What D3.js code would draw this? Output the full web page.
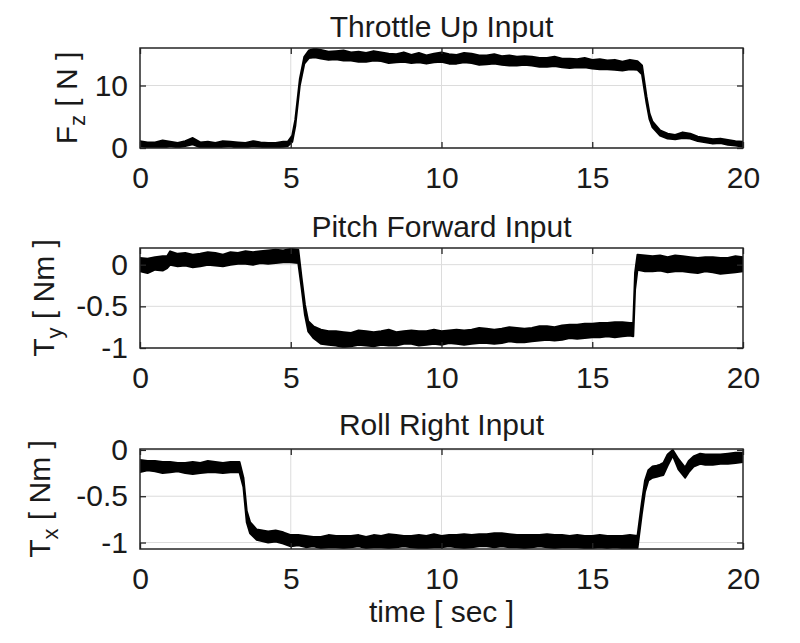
<!DOCTYPE html>
<html lang="en">
	<head>
		<meta charset="utf-8">
		<title>D3: Throttle, pitch and roll inputs</title>
		<script type="text/javascript" src="https://d3js.org/d3.v7.min.js"></script>
		<style type="text/css">
			body{
				margin: 0;
				background: white;
			}
			text{
				font-family: "Liberation Sans", Arial, Helvetica, sans-serif;
				fill: #1a1a1a;
			}
		</style>
	</head>
	<body>
		<script type="text/javascript">

			//Width and height
			var w = 800;
			var h = 643;

			//Shared x ticks
			var xTicks = [0, 5, 10, 15, 20];

			//Throttle Up Input : Fz [N], lower and upper edge of the noisy trace
			var timeFz = [0, 0.25, 0.5, 0.75, 1, 1.25, 1.5, 1.75, 2, 2.25, 2.5, 2.75, 3, 3.25, 3.5, 3.75, 4, 4.25, 4.5, 4.75, 4.9,
						  5.05, 5.15, 5.3, 5.45, 5.6, 5.8,
						  6, 6.25, 6.5, 6.75, 7, 7.25, 7.5, 7.75, 8, 8.25, 8.5, 8.75, 9, 9.25, 9.5, 9.75, 10, 10.25, 10.5, 10.75,
						  11, 11.25, 11.5, 11.75, 12, 12.25, 12.5, 12.75, 13, 13.25, 13.5, 13.75, 14, 14.25, 14.5, 14.75,
						  15, 15.25, 15.5, 15.75, 16, 16.25, 16.5,
						  16.65, 16.8, 16.9, 17.0, 17.25, 17.5, 17.75, 18, 18.25, 18.5, 18.75, 19, 19.25, 19.5, 19.75, 20];
			var fzLow  = [0.3, 0.1, 0.2, 0.0, 0.3, 0.1, 0.3, 0.6, 0.1, 0.2, 0.0, 0.2, 0.3, 0.0, 0.1, 0.3, 0.2, 0.0, 0.1, 0.2, 0.3,
						  1.0, 3.5, 10.0, 13.5, 14.4, 14.5,
						  14.3, 14.1, 14.2, 14.0, 14.0, 13.8, 13.8, 14.0, 13.9, 13.6, 13.7, 13.8, 13.6, 13.7, 13.5, 13.7, 13.8, 13.5, 13.5, 13.7,
						  13.6, 13.3, 13.4, 13.5, 13.3, 13.2, 13.2, 13.3, 13.2, 13.0, 13.0, 13.1, 12.9, 12.8, 12.9, 12.9,
						  12.7, 12.6, 12.6, 12.5, 12.4, 12.6, 12.5,
						  11.8, 7.2, 4.6, 3.3, 2.0, 1.5, 1.4, 1.6, 1.5, 1.1, 0.9, 0.7, 0.8, 0.5, 0.4, 0.2];
			var fzHigh = [1.1, 0.9, 0.9, 1.2, 1.0, 0.8, 1.1, 1.6, 0.9, 1.0, 0.8, 1.1, 1.0, 0.9, 0.8, 1.1, 0.9, 0.8, 0.8, 1.0, 1.0,
						  2.0, 4.5, 11.0, 14.6, 15.6, 15.9,
						  15.7, 15.4, 15.5, 15.6, 15.3, 15.4, 15.2, 15.5, 15.3, 15.1, 15.0, 15.3, 14.9, 15.2, 14.8, 15.1, 15.3, 15.0, 14.9, 15.2,
						  15.1, 14.8, 14.8, 15.0, 14.7, 14.8, 14.6, 14.7, 14.6, 14.4, 14.4, 14.6, 14.3, 14.3, 14.2, 14.4,
						  14.1, 14.2, 14.0, 14.1, 13.8, 14.1, 13.9,
						  13.2, 8.2, 5.5, 4.2, 2.8, 2.3, 2.1, 2.5, 2.3, 1.8, 1.6, 1.4, 1.5, 1.3, 1.1, 1.0];

			//Pitch Forward Input : Ty [Nm]
			var timeTy = [0, 0.25, 0.5, 0.75, 0.9, 1.0, 1.25, 1.5, 1.75, 2, 2.25, 2.5, 2.75, 3, 3.25, 3.5, 3.75, 4, 4.25, 4.5, 4.75, 5, 5.25,
						  5.36, 5.47, 5.58, 5.75,
						  6, 6.25, 6.5, 6.75, 7, 7.25, 7.5, 7.75, 8, 8.25, 8.5, 8.75, 9, 9.25, 9.5, 9.75, 10, 10.25, 10.5, 10.75,
						  11, 11.25, 11.5, 11.75, 12, 12.25, 12.5, 12.75, 13, 13.25, 13.5, 13.75, 14, 14.25, 14.5, 14.75,
						  15, 15.25, 15.5, 15.75, 16, 16.25, 16.36, 16.42,
						  16.5, 16.75, 17, 17.25, 17.5, 17.75, 18, 18.25, 18.5, 18.75, 19, 19.25, 19.5, 19.75, 20];
			var tyLow  = [-0.08, -0.10, -0.06, -0.07, -0.04, 0.00, -0.02, -0.01, -0.03, -0.02, 0.00, -0.01, -0.02, 0.00, 0.01, 0.01, 0.00, 0.02, 0.01, 0.02, 0.03, 0.03, 0.02,
						  -0.28, -0.60, -0.80, -0.88,
						  -0.95, -0.96, -0.97, -0.99, -0.98, -0.96, -0.97, -0.98, -0.96, -0.97, -0.97, -0.95, -0.95, -0.97, -0.96, -0.95, -0.96, -0.94, -0.95, -0.96,
						  -0.95, -0.94, -0.94, -0.95, -0.94, -0.92, -0.93, -0.93, -0.92, -0.91, -0.90, -0.91, -0.90, -0.88, -0.89, -0.88,
						  -0.87, -0.87, -0.86, -0.87, -0.86, -0.85, -0.86, -0.30,
						  -0.06, -0.08, -0.08, -0.07, -0.09, -0.08, -0.08, -0.09, -0.10, -0.08, -0.09, -0.11, -0.10, -0.09, -0.08];
			var tyHigh = [0.08, 0.07, 0.09, 0.10, 0.10, 0.16, 0.13, 0.14, 0.12, 0.13, 0.15, 0.14, 0.12, 0.15, 0.14, 0.16, 0.15, 0.16, 0.17, 0.18, 0.17, 0.19, 0.18,
						  -0.16, -0.48, -0.68, -0.74,
						  -0.78, -0.80, -0.80, -0.81, -0.82, -0.79, -0.80, -0.81, -0.80, -0.78, -0.81, -0.80, -0.79, -0.80, -0.80, -0.78, -0.80, -0.79, -0.78, -0.79,
						  -0.78, -0.76, -0.77, -0.78, -0.77, -0.75, -0.76, -0.77, -0.76, -0.74, -0.74, -0.75, -0.73, -0.72, -0.72, -0.71,
						  -0.71, -0.70, -0.70, -0.69, -0.69, -0.70, -0.70, -0.10,
						  0.12, 0.11, 0.10, 0.11, 0.09, 0.11, 0.10, 0.09, 0.08, 0.09, 0.09, 0.08, 0.08, 0.10, 0.09];

			//Roll Right Input : Tx [Nm]
			var timeTx = [0, 0.25, 0.5, 0.75, 1, 1.25, 1.5, 1.75, 2, 2.25, 2.5, 2.75, 3, 3.3,
						  3.43, 3.54, 3.65, 3.87, 4.25, 4.5, 4.75, 5, 5.25, 5.5, 5.75,
						  6, 6.25, 6.5, 6.75, 7, 7.25, 7.5, 7.75, 8, 8.25, 8.5, 8.75, 9, 9.25, 9.5, 9.75, 10, 10.25, 10.5, 10.75,
						  11, 11.25, 11.5, 11.75, 12, 12.25, 12.5, 12.75, 13, 13.25, 13.5, 13.75, 14, 14.25, 14.5, 14.75,
						  15, 15.25, 15.5, 15.75, 16, 16.25, 16.5,
						  16.64, 16.75, 16.86, 17.0, 17.14, 17.25, 17.36, 17.5, 17.67, 17.86, 18.08, 18.2, 18.36, 18.58, 18.75, 19, 19.25, 19.5, 19.75, 20];
			var txLow  = [-0.24, -0.22, -0.23, -0.25, -0.24, -0.23, -0.25, -0.26, -0.25, -0.24, -0.24, -0.25, -0.24, -0.24,
						  -0.40, -0.78, -0.90, -0.97, -1.00, -0.99, -1.01, -1.04, -1.03, -1.05, -1.04,
						  -1.06, -1.05, -1.05, -1.06, -1.05, -1.04, -1.06, -1.05, -1.05, -1.06, -1.05, -1.04, -1.05, -1.06, -1.06, -1.05, -1.05, -1.04, -1.05, -1.06,
						  -1.05, -1.04, -1.04, -1.05, -1.04, -1.05, -1.05, -1.06, -1.05, -1.04, -1.05, -1.06, -1.05, -1.05, -1.05, -1.06,
						  -1.06, -1.05, -1.06, -1.05, -1.06, -1.06, -1.06,
						  -0.70, -0.45, -0.33, -0.30, -0.29, -0.28, -0.27, -0.17, -0.06, -0.21, -0.30, -0.24, -0.18, -0.15, -0.16, -0.16, -0.15, -0.15, -0.14, -0.13];
			var txHigh = [-0.11, -0.12, -0.12, -0.13, -0.13, -0.14, -0.14, -0.13, -0.14, -0.12, -0.13, -0.14, -0.13, -0.13,
						  -0.30, -0.66, -0.78, -0.86, -0.88, -0.87, -0.89, -0.92, -0.92, -0.93, -0.94,
						  -0.94, -0.92, -0.93, -0.93, -0.93, -0.92, -0.94, -0.92, -0.93, -0.91, -0.92, -0.93, -0.93, -0.92, -0.93, -0.91, -0.93, -0.92, -0.92, -0.91,
						  -0.92, -0.91, -0.91, -0.90, -0.90, -0.91, -0.92, -0.92, -0.92, -0.92, -0.91, -0.92, -0.92, -0.93, -0.92, -0.93,
						  -0.93, -0.92, -0.93, -0.93, -0.93, -0.92, -0.93,
						  -0.58, -0.33, -0.22, -0.18, -0.17, -0.16, -0.14, -0.05, 0.00, -0.10, -0.19, -0.12, -0.07, -0.04, -0.05, -0.05, -0.05, -0.04, -0.03, -0.03];

			//Panel settings
			var panels = [
				{ title: "Throttle Up Input", sym: "F", sub: "z", unit: " [ N ]", time: timeFz, lo: fzLow, hi: fzHigh,
				  domain: [0, 16], yTicks: [0, 10], top: 48, labelX: 77, titleY: 37 },
				{ title: "Pitch Forward Input", sym: "T", sub: "y", unit: " [ Nm ]", time: timeTy, lo: tyLow, hi: tyHigh,
				  domain: [-1, 0.2], yTicks: [-1, -0.5, 0], top: 248, labelX: 54, titleY: 237 },
				{ title: "Roll Right Input", sym: "T", sub: "x", unit: " [ Nm ]", time: timeTx, lo: txLow, hi: txHigh,
				  domain: [-1.07, 0.01], yTicks: [-1, -0.5, 0], top: 449, labelX: 50, titleY: 435 }
			];

			var left = 140;
			var right = 743;
			var ph = 100;
			var fontSize = 30;
			var tickLen = 6;

			//Create SVG element
			var svg = d3.select("body")
						.append("svg")
						.attr("width", w)
						.attr("height", h);

			var xScale = d3.scaleLinear()
							.domain([0, 20])
							.range([left, right]);

			panels.forEach(function(p, i) {

				var yScale = d3.scaleLinear()
								.domain(p.domain)
								.range([p.top + ph, p.top]);

				var g = svg.append("g");

				//Grid
				g.selectAll("line.gx")
				 .data(xTicks.slice(1, -1))
				 .enter()
				 .append("line")
				 .attr("x1", function(d) { return xScale(d); })
				 .attr("x2", function(d) { return xScale(d); })
				 .attr("y1", p.top)
				 .attr("y2", p.top + ph)
				 .attr("stroke", "#dcdcdc")
				 .attr("stroke-width", 1);

				g.selectAll("line.gy")
				 .data(p.yTicks)
				 .enter()
				 .append("line")
				 .attr("x1", left)
				 .attr("x2", right)
				 .attr("y1", function(d) { return yScale(d); })
				 .attr("y2", function(d) { return yScale(d); })
				 .attr("stroke", "#dcdcdc")
				 .attr("stroke-width", 1);

				//Clip
				svg.append("clipPath")
				   .attr("id", "clip" + i)
				   .append("rect")
				   .attr("x", left)
				   .attr("y", p.top)
				   .attr("width", right - left)
				   .attr("height", ph);

				//Trace band
				var area = d3.area()
							 .x(function(d) { return xScale(p.time[d]); })
							 .y0(function(d) { return yScale(p.lo[d]); })
							 .y1(function(d) { return yScale(p.hi[d]); });

				g.append("path")
				 .datum(d3.range(p.time.length))
				 .attr("clip-path", "url(#clip" + i + ")")
				 .attr("d", area)
				 .attr("fill", "#000")
				 .attr("stroke", "#000")
				 .attr("stroke-width", 2)
				 .attr("stroke-linejoin", "round");

				//Axes
				var fmt = function(d) { return String(d); };

				g.append("g")
				 .attr("transform", "translate(0," + (p.top + ph) + ")")
				 .call(d3.axisBottom(xScale).tickValues(xTicks).tickFormat(fmt)
					.tickSizeInner(-tickLen).tickSizeOuter(0).tickPadding(19));

				g.append("g")
				 .attr("transform", "translate(0," + p.top + ")")
				 .call(d3.axisTop(xScale).tickValues(xTicks).tickFormat("")
					.tickSizeInner(-tickLen).tickSizeOuter(0));

				g.append("g")
				 .attr("transform", "translate(" + left + ",0)")
				 .call(d3.axisLeft(yScale).tickValues(p.yTicks).tickFormat(fmt)
					.tickSizeInner(-tickLen).tickSizeOuter(0).tickPadding(12));

				g.append("g")
				 .attr("transform", "translate(" + right + ",0)")
				 .call(d3.axisRight(yScale).tickValues(p.yTicks).tickFormat("")
					.tickSizeInner(-tickLen).tickSizeOuter(0));

				g.selectAll(".domain").remove();
				g.selectAll(".tick line")
				 .attr("stroke", "#262626")
				 .attr("stroke-width", 1.3);
				g.selectAll(".tick text")
				 .attr("font-family", null)
				 .attr("font-size", fontSize + "px")
				 .attr("fill", "#1a1a1a");

				//Frame
				g.append("rect")
				 .attr("x", left)
				 .attr("y", p.top)
				 .attr("width", right - left)
				 .attr("height", ph)
				 .attr("fill", "none")
				 .attr("stroke", "#262626")
				 .attr("stroke-width", 1.5);

				//Title
				svg.append("text")
				   .attr("x", (left + right) / 2)
				   .attr("y", p.titleY)
				   .attr("text-anchor", "middle")
				   .attr("font-size", fontSize + "px")
				   .text(p.title);

				//Y label
				var yl = svg.append("text")
							.attr("transform", "translate(" + p.labelX + "," + (p.top + ph / 2) + ") rotate(-90)")
							.attr("text-anchor", "middle")
							.attr("font-size", fontSize + "px");
				yl.append("tspan").text(p.sym);
				yl.append("tspan").attr("dy", 8).attr("font-size", "22px").text(p.sub);
				yl.append("tspan").attr("dy", -8).text(p.unit);
			});

			//X label
			svg.append("text")
			   .attr("x", (left + right) / 2)
			   .attr("y", 622)
			   .attr("text-anchor", "middle")
			   .attr("font-size", fontSize + "px")
			   .text("time [ sec ]");

		</script>
	</body>
</html>
